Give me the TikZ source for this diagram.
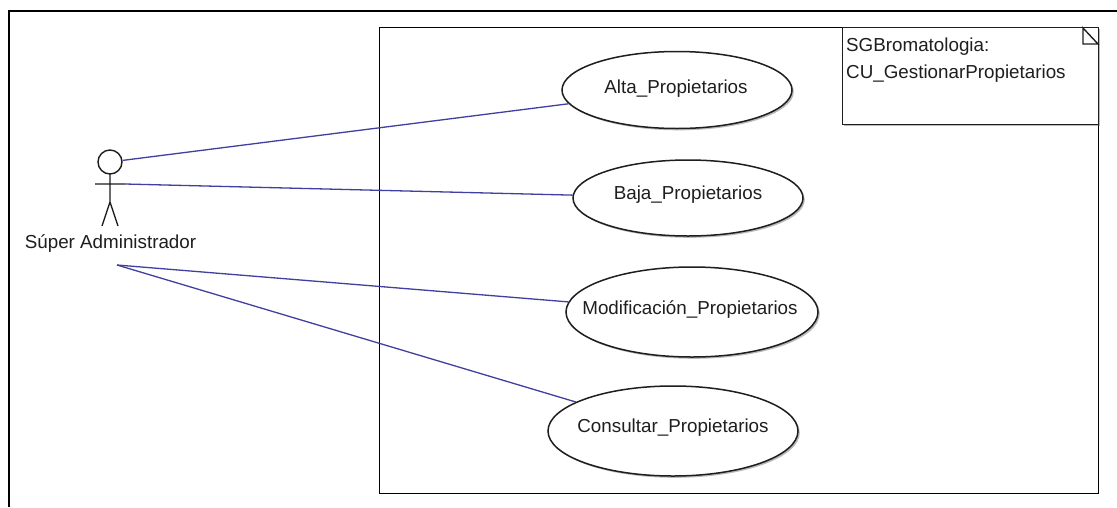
\documentclass[tikz,border=0pt]{standalone}
\usepackage{fontspec}
\setmainfont{Liberation Sans}
\usetikzlibrary{shapes.geometric,shadows}
\definecolor{assocblue}{RGB}{64,64,160}
\definecolor{inkgrey}{RGB}{30,30,30}
\tikzset{
  softshadow/.style={drop shadow={shadow xshift=1.8pt,shadow yshift=-1.8pt,opacity=.45,fill=black!60}},
  usecase/.style={draw=inkgrey,line width=1.5pt,fill=white,ellipse,inner sep=0pt,softshadow},
  assoc/.style={draw=assocblue,line width=1.3pt},
  frameline/.style={draw=black,line width=1.7pt},
  actorline/.style={draw=inkgrey,line width=1.4pt},
  label/.style={inner sep=0pt,text=inkgrey,font=\fontsize{18.8}{20}\selectfont},
}
\begin{document}
\begin{tikzpicture}[x=1pt,y=-1pt]
\useasboundingbox (0,0) rectangle (1117,507);
\fill[white] (0,0) rectangle (1117,507);
% outer frame
\coordinate (fa) at (9,507);
\coordinate (fb) at (9,11);
\coordinate (fc) at (1117,11);
\draw[frameline] (fa) -- (fb) -- (fc);
% system boundary
\node[draw=black,line width=1.2pt,minimum width=719.5pt,minimum height=466pt,inner sep=0pt,anchor=north west] (sys) at (378.5,27) {};
% use cases
\node[usecase,minimum width=230pt,minimum height=77pt] (alta) at (677,90) {};
\node[usecase,minimum width=230pt,minimum height=76pt] (baja) at (688,198) {};
\node[usecase,minimum width=252pt,minimum height=90pt] (modif) at (692,312) {};
\node[usecase,minimum width=250pt,minimum height=90pt] (cons) at (673,431) {};
\node[label] (altat) at (676,89) {Alta\_Propietarios};
\node[label] (bajat) at (688,195) {Baja\_Propietarios};
\node[label] (modift) at (690,310) {Modificación\_Propietarios};
\node[label] (const) at (673,428) {Consultar\_Propietarios};
% note
\node[draw=inkgrey,line width=1.3pt,fill=white,minimum width=256pt,minimum height=97pt,inner sep=0pt,anchor=north west,softshadow] (note) at (842,27) {};
\coordinate (foldA) at (1083,28);
\coordinate (foldB) at (1098,44);
\coordinate (foldC) at (1083,44);
\draw[actorline] (foldA) -- (foldB) -- (foldC) -- cycle;
\node[label,anchor=west] (notea) at (846,47) {SGBromatologia:};
\node[label,anchor=west] (noteb) at (846,74) {CU\_GestionarPropietarios};
% actor
\node[circle,draw=inkgrey,line width=1.4pt,fill=white,minimum size=24pt,inner sep=0pt] (head) at (110,162) {};
\coordinate (neck) at (110,174);
\coordinate (hip) at (110,202);
\coordinate (armL) at (95,184);
\coordinate (armR) at (125,184);
\coordinate (legL) at (102,226);
\coordinate (legR) at (118,226);
\draw[actorline] (neck) -- (hip) (armL) -- (armR) (legL) -- (hip) -- (legR);
\node[label] (actor) at (110.5,243.5) {Súper Administrador};
\coordinate (actorfoot) at (117,265);
% associations
\draw[assoc] (head) -- (alta);
\draw[assoc] (armR) -- (baja);
\draw[assoc] (actorfoot) -- (modif);
\draw[assoc] (actorfoot) -- (cons);
\end{tikzpicture}
\end{document}
